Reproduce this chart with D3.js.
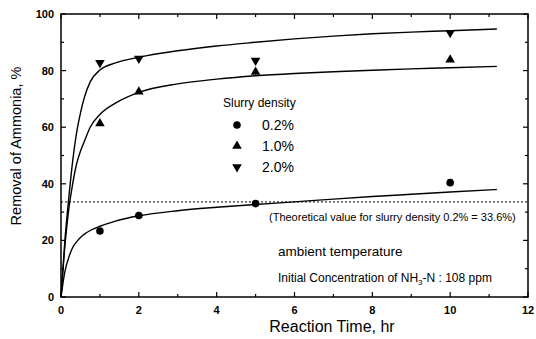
<!DOCTYPE html>
<html>
<head>
<meta charset="utf-8">
<script src="https://cdn.jsdelivr.net/npm/d3@7"></script>
<style>
  body { margin: 0; background: #fff; }
  text { font-family: "Liberation Sans", Arial, sans-serif; fill: #000; }
</style>
</head>
<body>
<div id="chart"></div>
<script>
// measured points
var times = [1, 2, 5, 10];
var dens02 = [23.3, 28.8, 33.0, 40.4];
var dens10 = [61.3, 72.5, 79.5, 83.8];
var dens20 = [82.8, 84.3, 83.6, 93.4];

// fitted curves
var curveT   = [0, 0.1, 0.2, 0.3, 0.4, 0.5, 0.6, 0.75, 1, 1.4, 2, 3, 4, 5, 6, 7, 8, 9, 10, 11.2];
var curve02  = [0, 9, 14, 17.5, 19.5, 21, 22.2, 23.5, 25, 26.8, 28.7, 30.5, 31.7, 32.7, 33.6, 34.6, 35.5, 36.3, 37.1, 38];
var curve10  = [0, 18, 31, 40, 47, 51.5, 55, 60, 64.5, 68.5, 72.3, 75.3, 77, 78.2, 79, 79.6, 80.1, 80.6, 81, 81.5];
var curve20  = [0, 20, 35, 48, 58, 65, 70.5, 76, 80.2, 82.7, 84.7, 87, 88.7, 90, 91.2, 92.2, 93, 93.6, 94.1, 94.7];

var theoretical = 33.6;
var xTicks = [0, 2, 4, 6, 8, 10, 12];
var yTicks = [0, 20, 40, 60, 80, 100];
var legendLabels = ["0.2%", "1.0%", "2.0%"];

var width = 536, height = 339;
var margin = {top: 14, right: 8, bottom: 42, left: 61};

var svg = d3.select("#chart").append("svg")
    .attr("width", width)
    .attr("height", height);

var x = d3.scaleLinear().domain([0, 12]).range([margin.left, width - margin.right]);
var y = d3.scaleLinear().domain([0, 100]).range([height - margin.bottom, margin.top]);

// ticks on all four sides, pointing inward
function tickSet(values, len, axis) {
    values.forEach(function(v) {
        if (axis == "x") {
            svg.append("line").attr("x1", x(v)).attr("x2", x(v))
                .attr("y1", y(0)).attr("y2", y(0) - len).attr("stroke", "#000").attr("stroke-width", 1.2);
            svg.append("line").attr("x1", x(v)).attr("x2", x(v))
                .attr("y1", y(100)).attr("y2", y(100) + len).attr("stroke", "#000").attr("stroke-width", 1.2);
        } else {
            svg.append("line").attr("x1", x(0)).attr("x2", x(0) + len)
                .attr("y1", y(v)).attr("y2", y(v)).attr("stroke", "#000").attr("stroke-width", 1.2);
            svg.append("line").attr("x1", x(12)).attr("x2", x(12) - len)
                .attr("y1", y(v)).attr("y2", y(v)).attr("stroke", "#000").attr("stroke-width", 1.2);
        }
    });
}
tickSet(xTicks, 5, "x");
tickSet(d3.range(1, 12, 2), 3, "x");
tickSet(yTicks, 5, "y");
tickSet(d3.range(10, 100, 20), 3, "y");

// frame
svg.append("rect")
    .attr("x", x(0)).attr("y", y(100))
    .attr("width", x(12) - x(0)).attr("height", y(0) - y(100))
    .attr("fill", "none").attr("stroke", "#000").attr("stroke-width", 1.5);

// tick labels
svg.selectAll(".xlab").data(xTicks).enter().append("text")
    .attr("x", function(d) { return x(d); })
    .attr("y", y(0) + 17)
    .attr("text-anchor", "middle")
    .style("font-size", "11px").style("font-weight", "bold")
    .text(function(d) { return d; });

svg.selectAll(".ylab").data(yTicks).enter().append("text")
    .attr("x", x(0) - 7)
    .attr("y", function(d) { return y(d) + 4; })
    .attr("text-anchor", "end")
    .style("font-size", "11px").style("font-weight", "bold")
    .text(function(d) { return d; });

// axis titles
svg.append("text")
    .attr("x", 332).attr("y", 332)
    .attr("text-anchor", "middle")
    .style("font-size", "16px")
    .text("Reaction Time, hr");

svg.append("text")
    .attr("transform", "translate(21,146) rotate(-90)")
    .attr("text-anchor", "middle")
    .style("font-size", "14.5px")
    .text("Removal of Ammonia, %");

// theoretical line
svg.append("line")
    .attr("x1", x(0)).attr("x2", x(12))
    .attr("y1", y(theoretical)).attr("y2", y(theoretical))
    .attr("stroke", "#000").attr("stroke-width", 1)
    .attr("stroke-dasharray", "2,2");

// curves
var line = d3.line()
    .x(function(d) { return x(d[0]); })
    .y(function(d) { return y(d[1]); })
    .curve(d3.curveMonotoneX);

[curve02, curve10, curve20].forEach(function(c) {
    svg.append("path")
        .datum(curveT.map(function(t, i) { return [t, c[i]]; }))
        .attr("d", line)
        .attr("fill", "none")
        .attr("stroke", "#000")
        .attr("stroke-width", 1.4);
});

// markers
var triUp = d3.symbol().type(d3.symbolTriangle).size(40);
function drawMarker(g, kind, cx, cy) {
    if (kind == 0) {
        g.append("circle").attr("cx", cx).attr("cy", cy).attr("r", 3.8).attr("fill", "#000");
    } else {
        g.append("path").attr("d", triUp())
            .attr("transform", "translate(" + cx + "," + cy + ")" + (kind == 2 ? " rotate(180)" : ""))
            .attr("fill", "#000");
    }
}

[dens02, dens10, dens20].forEach(function(series, k) {
    series.forEach(function(v, i) {
        drawMarker(svg, k, x(times[i]), y(v));
    });
});

// legend
svg.append("text")
    .attr("x", 223).attr("y", 107)
    .style("font-size", "12px")
    .text("Slurry density");

legendLabels.forEach(function(lab, k) {
    var ly = 125 + k * 21;
    drawMarker(svg, k, 237, ly);
    svg.append("text")
        .attr("x", 262).attr("y", ly + 5)
        .style("font-size", "14px")
        .text(lab);
});

// annotations
svg.append("text")
    .attr("x", 269).attr("y", 221)
    .style("font-size", "11px")
    .text("(Theoretical value for slurry density 0.2% = 33.6%)");

svg.append("text")
    .attr("x", 278).attr("y", 256)
    .style("font-size", "13.5px")
    .text("ambient temperature");

var note = svg.append("text")
    .attr("x", 278).attr("y", 282)
    .style("font-size", "12px");
note.append("tspan").text("Initial Concentration of NH");
note.append("tspan").attr("dy", 3).style("font-size", "8px").text("3");
note.append("tspan").attr("dy", -3).text("-N : 108 ppm");
</script>
</body>
</html>
